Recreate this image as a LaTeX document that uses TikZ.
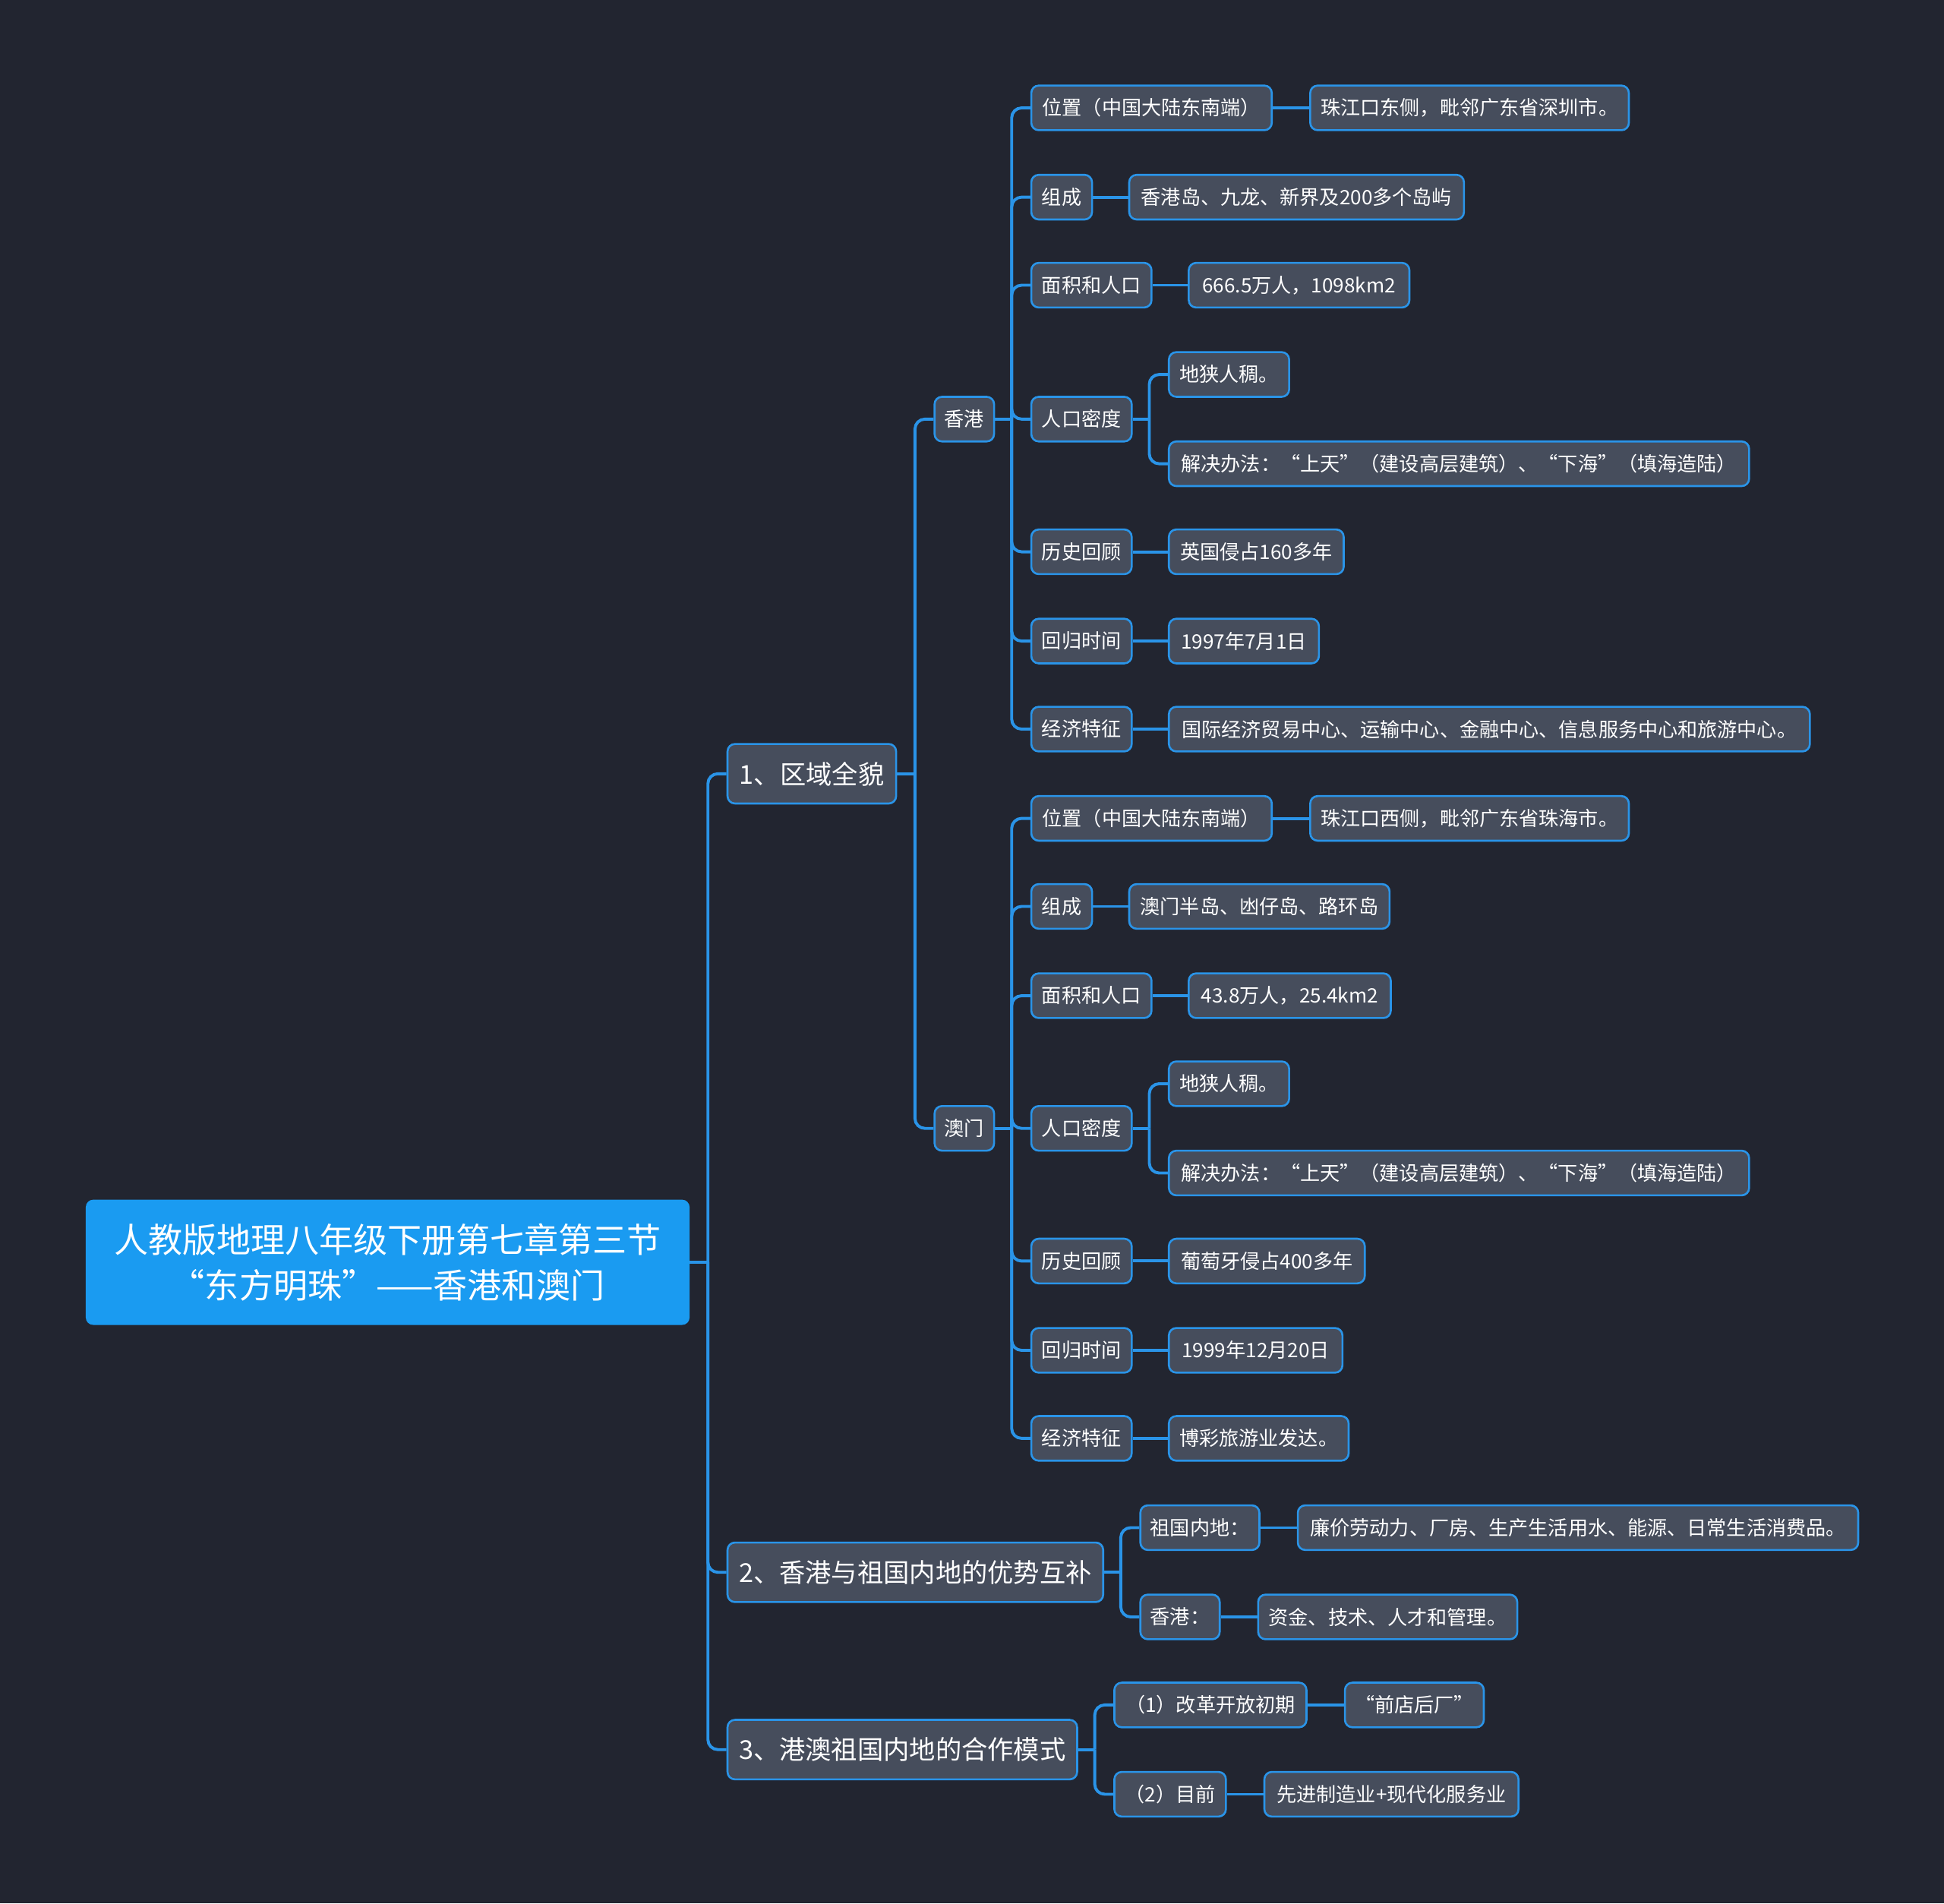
\documentclass[tikz,border=0pt]{standalone}
\usepackage{fontspec}
\setmainfont{Noto Sans CJK SC}
\definecolor{bg}{HTML}{222530}
\definecolor{nfill}{HTML}{464D5C}
\definecolor{lblue}{HTML}{2A94E8}
\definecolor{rootfill}{HTML}{1A9BF1}
\newcommand\bx[6]{\node[#1, anchor=west, minimum width={(#4-#3)*1pt}] (#2) at (#3,#5) {#6};}
\tikzset{
  base/.style={rectangle, rounded corners=6pt, draw=lblue, line width=1.6pt, fill=nfill, text=white, inner sep=0pt},
  sm/.style={base, minimum height=36pt, font=\fontsize{16}{19}\selectfont},
  lv/.style={base, minimum height=48pt, font=\fontsize{21}{25}\selectfont},
  rootbox/.style={rectangle, rounded corners=6pt, fill=rootfill, text=white, inner sep=0pt, minimum height=101pt, align=center, font=\fontsize{27.6}{37}\selectfont},
  ln/.style={draw=lblue, line width=2.4pt},
  el/.style={ln, rounded corners=8pt},
}
\begin{document}
\begin{tikzpicture}[x=1pt,y=-1pt]
\fill[bg] (0,0) rectangle (1568,1535);
\useasboundingbox (0,0) rectangle (1568,1535);
% root
\bx{rootbox}{root}{69}{556}{1018}{人教版地理八年级下册第七章第三节\\“东方明珠”——香港和澳门}
% level 1
\bx{lv}{a1}{586}{722}{624}{1、区域全貌}
\bx{lv}{a2}{586}{889}{1268}{2、香港与祖国内地的优势互补}
\bx{lv}{a3}{586}{868}{1411}{3、港澳祖国内地的合作模式}
% level 2
\bx{sm}{hk}{753}{801}{338}{香港}
\bx{sm}{mo}{753}{801}{910}{澳门}
% Hong Kong
\bx{sm}{hk1}{831}{1025}{87}{位置（中国大陆东南端）}
\bx{sm}{hk2}{831}{880}{159}{组成}
\bx{sm}{hk3}{831}{928}{230}{面积和人口}
\bx{sm}{hk4}{831}{912}{338}{人口密度}
\bx{sm}{hk5}{831}{912}{445}{历史回顾}
\bx{sm}{hk6}{831}{912}{517}{回归时间}
\bx{sm}{hk7}{831}{912}{588}{经济特征}
\bx{sm}{hk1a}{1056}{1313}{87}{珠江口东侧，毗邻广东省深圳市。}
\bx{sm}{hk2a}{910}{1180}{159}{香港岛、九龙、新界及200多个岛屿}
\bx{sm}{hk3a}{958}{1136}{230}{666.5万人，1098km2}
\bx{sm}{hk4a}{942}{1039}{302}{地狭人稠。}
\bx{sm}{hk4b}{942}{1410}{374}{解决办法：“上天”（建设高层建筑）、“下海”（填海造陆）}
\bx{sm}{hk5a}{942}{1083}{445}{英国侵占160多年}
\bx{sm}{hk6a}{942}{1063}{517}{1997年7月1日}
\bx{sm}{hk7a}{942}{1459}{588}{国际经济贸易中心、运输中心、金融中心、信息服务中心和旅游中心。}
% Macau
\bx{sm}{mo1}{831}{1025}{660}{位置（中国大陆东南端）}
\bx{sm}{mo2}{831}{880}{731}{组成}
\bx{sm}{mo3}{831}{928}{803}{面积和人口}
\bx{sm}{mo4}{831}{912}{910}{人口密度}
\bx{sm}{mo5}{831}{912}{1017}{历史回顾}
\bx{sm}{mo6}{831}{912}{1089}{回归时间}
\bx{sm}{mo7}{831}{912}{1160}{经济特征}
\bx{sm}{mo1a}{1056}{1313}{660}{珠江口西侧，毗邻广东省珠海市。}
\bx{sm}{mo2a}{910}{1120}{731}{澳门半岛、凼仔岛、路环岛}
\bx{sm}{mo3a}{958}{1121}{803}{43.8万人，25.4km2}
\bx{sm}{mo4a}{942}{1039}{874}{地狭人稠。}
\bx{sm}{mo4b}{942}{1410}{946}{解决办法：“上天”（建设高层建筑）、“下海”（填海造陆）}
\bx{sm}{mo5a}{942}{1100}{1017}{葡萄牙侵占400多年}
\bx{sm}{mo6a}{942}{1082}{1089}{1999年12月20日}
\bx{sm}{mo7a}{942}{1087}{1160}{博彩旅游业发达。}
% section 2
\bx{sm}{b1}{919}{1015}{1232}{祖国内地：}
\bx{sm}{b2}{919}{983}{1304}{香港：}
\bx{sm}{b1a}{1046}{1498}{1232}{廉价劳动力、厂房、生产生活用水、能源、日常生活消费品。}
\bx{sm}{b2a}{1014}{1223}{1304}{资金、技术、人才和管理。}
% section 3
\bx{sm}{c1}{898}{1053}{1375}{（1）改革开放初期}
\bx{sm}{c2}{898}{988}{1447}{（2）目前}
\bx{sm}{c1a}{1084}{1196}{1375}{“前店后厂”}
\bx{sm}{c2a}{1019}{1224}{1447}{先进制造业+现代化服务业}
% junction coordinates
\coordinate (j0) at (571,1018);
\coordinate (j1) at (738,624);
\coordinate (jhk) at (816,338);
\coordinate (jmo) at (816,910);
\coordinate (jhk4) at (927,338);
\coordinate (jmo4) at (927,910);
\coordinate (j2) at (904,1268);
\coordinate (j3) at (883,1411);
% root
\draw[ln] (root.east) -- (j0);
\foreach \c in {a1,a2,a3} \draw[el] (j0) |- (\c.west);
% 1
\draw[ln] (a1.east) -- (j1);
\foreach \c in {hk,mo} \draw[el] (j1) |- (\c.west);
\draw[ln] (hk.east) -- (jhk);
\foreach \c in {hk1,hk2,hk3,hk4,hk5,hk6,hk7} \draw[el] (jhk) |- (\c.west);
\draw[ln] (mo.east) -- (jmo);
\foreach \c in {mo1,mo2,mo3,mo4,mo5,mo6,mo7} \draw[el] (jmo) |- (\c.west);
\draw[ln] (hk4.east) -- (jhk4);
\foreach \c in {hk4a,hk4b} \draw[el] (jhk4) |- (\c.west);
\draw[ln] (mo4.east) -- (jmo4);
\foreach \c in {mo4a,mo4b} \draw[el] (jmo4) |- (\c.west);
\foreach \p/\c in {hk1/hk1a,hk2/hk2a,hk3/hk3a,hk5/hk5a,hk6/hk6a,hk7/hk7a,mo1/mo1a,mo2/mo2a,mo3/mo3a,mo5/mo5a,mo6/mo6a,mo7/mo7a,b1/b1a,b2/b2a,c1/c1a,c2/c2a}
  \draw[ln] (\p.east) -- (\c.west);
% 2
\draw[ln] (a2.east) -- (j2);
\foreach \c in {b1,b2} \draw[el] (j2) |- (\c.west);
% 3
\draw[ln] (a3.east) -- (j3);
\foreach \c in {c1,c2} \draw[el] (j3) |- (\c.west);
\end{tikzpicture}
\end{document}
